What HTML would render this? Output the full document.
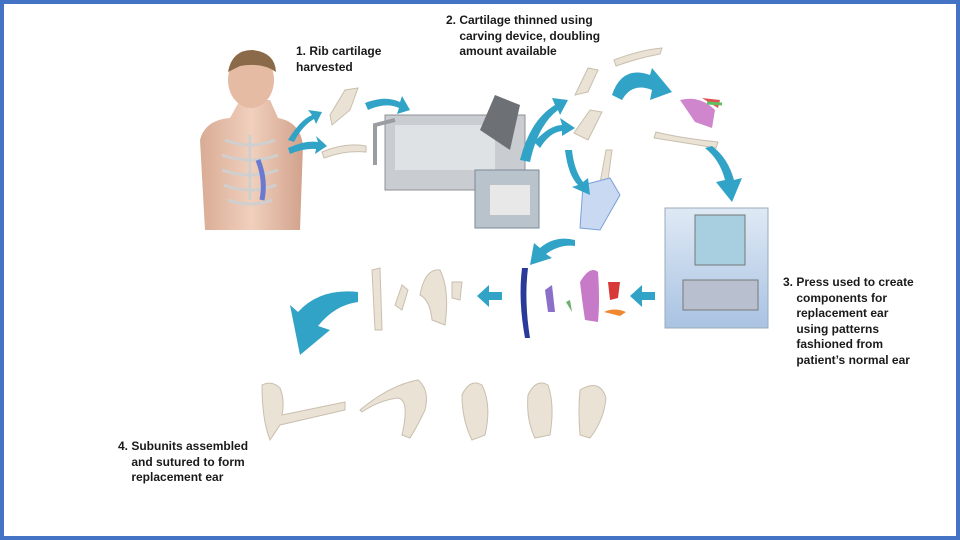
<!DOCTYPE html>
<html><head><meta charset="utf-8"><style>
html,body{margin:0;padding:0;background:#fff}
.wrap{position:relative;width:960px;height:540px;overflow:hidden;background:#fff}
.t{position:absolute;font-family:"Liberation Sans",sans-serif;font-weight:bold;font-size:12px;line-height:15.5px;color:#1a1a1a}
svg{position:absolute;left:0;top:0}
</style></head><body><div class="wrap">
<svg width="960" height="540" viewBox="0 0 960 540">
<defs>
<linearGradient id="sk" x1="0" y1="0" x2="1" y2="0"><stop offset="0" stop-color="#d9ab94"/><stop offset=".5" stop-color="#f0d0bd"/><stop offset="1" stop-color="#d2a28c"/></linearGradient>
<linearGradient id="bl" x1="0" y1="0" x2="0" y2="1"><stop offset="0" stop-color="#dfe9f5"/><stop offset="1" stop-color="#a9c3e2"/></linearGradient>
</defs>
<rect x="2" y="2" width="956" height="536" fill="none" stroke="#4472c4" stroke-width="4"/>
<!-- child -->
<path d="M200 140 Q205 120 230 118 L240 100 L270 100 L278 118 Q300 122 303 145 L300 230 L205 230 Z" fill="url(#sk)"/>
<ellipse cx="251" cy="80" rx="23" ry="28" fill="#e6bba4"/>
<path d="M228 72 Q232 50 252 50 Q275 52 276 72 Q262 62 240 66 Z" fill="#8a6a48"/>
<g stroke="#cfcfcf" stroke-width="3" fill="none">
<path d="M225 140 Q250 150 275 140"/><path d="M222 155 Q250 165 278 155"/><path d="M222 170 Q250 180 278 170"/><path d="M224 185 Q250 195 276 185"/><path d="M228 200 Q250 208 272 200"/>
<line x1="250" y1="135" x2="250" y2="200"/></g>
<path d="M258 160 Q266 180 262 200" stroke="#6a7ad0" stroke-width="5" fill="none"/>
<!-- device -->
<rect x="385" y="115" width="140" height="75" fill="#c9ccd0" stroke="#8d9196"/>
<rect x="395" y="125" width="100" height="45" fill="#dfe2e4"/>
<path d="M480 130 L495 95 L520 105 L510 150 Z" fill="#6d7075"/>
<path d="M375 165 L375 125 L395 120" stroke="#9a9ea2" stroke-width="4" fill="none"/>
<rect x="475" y="170" width="64" height="58" fill="#b9c3cb" stroke="#7a8a9a"/>
<rect x="490" y="185" width="40" height="30" fill="#e8e8e8"/>
<!-- cartilage pieces -->
<g fill="#e9e2d5" stroke="#c9bfae" stroke-width="1">
<path d="M330 115 L345 90 L358 88 L350 110 L332 125 Z"/>
<path d="M322 152 Q345 142 366 146 L366 152 Q345 150 324 158 Z"/>
<path d="M575 95 L588 68 L598 70 L588 92 Z"/><path d="M614 60 Q640 50 662 48 L660 54 Q638 58 616 66 Z"/>
<path d="M574 133 L590 110 L602 112 L588 140 Z"/>
<path d="M596 205 L606 150 L612 150 L604 210 Z"/>
<path d="M656 132 Q680 138 718 142 L716 148 Q680 142 654 138 Z"/>
<path d="M375 330 L372 270 L380 268 L382 330 Z"/><path d="M395 305 L402 285 L408 290 L402 310 Z"/>
<path d="M420 295 Q425 268 440 270 Q450 290 445 325 L432 320 Q430 300 420 295 Z"/>
<path d="M452 282 L462 282 L460 300 L452 298 Z"/>
<path d="M262 385 Q272 380 280 388 Q285 400 282 415 L345 402 L345 410 L280 425 L270 440 Q262 420 262 385 Z"/>
<path d="M360 410 Q390 385 418 380 Q430 390 425 410 Q418 425 410 438 L402 435 Q410 400 398 398 Q380 400 362 412 Z"/>
<path d="M462 395 Q470 378 482 385 Q492 405 485 435 L472 440 Q462 420 462 395 Z"/>
<path d="M528 395 Q536 378 548 385 Q555 405 550 435 L535 438 Q526 420 528 395 Z"/>
<path d="M580 390 Q600 378 606 398 Q604 420 590 438 L580 435 Q578 410 580 390 Z"/>
</g>
<path d="M680 100 Q700 95 715 110 L712 128 L695 122 Z" fill="#cf86cc"/>
<path d="M702 98 L720 100 L718 108 Z" fill="#e05050"/>
<path d="M707 103 L722 104" stroke="#60c060" stroke-width="3"/>
<path d="M583 185 L610 178 L620 195 L600 230 L580 228 Z" fill="#c9d9f2" stroke="#7aa0d8"/>
<!-- press -->
<rect x="665" y="208" width="103" height="120" fill="url(#bl)" stroke="#9ab"/>
<rect x="695" y="215" width="50" height="50" fill="#a7cfe0" stroke="#777"/>
<rect x="683" y="280" width="75" height="30" fill="#b8c0d0" stroke="#777"/>
<!-- colored pieces -->
<path d="M522 268 Q518 300 525 338 L530 338 Q524 300 528 268 Z" fill="#2a3a9a"/>
<path d="M545 290 L552 285 L555 312 L548 312 Z" fill="#8a70c8"/>
<path d="M566 302 L570 300 L572 312 Z" fill="#6ab06a"/>
<path d="M580 282 Q590 265 598 272 Q600 300 598 322 L585 320 Q582 300 580 282 Z" fill="#c67ac8"/>
<path d="M608 282 L620 282 L618 298 L610 300 Z" fill="#d83838"/>
<path d="M604 312 Q614 307 626 312 L620 316 Z" fill="#f08830"/>
<!-- arrows -->
<g fill="#31a3c6">
<path d="M365 103 Q385 95 400 102 L402 96 L410 110 L397 114 L399 108 Q386 102 368 110 Z"/>
<path d="M288 140 Q300 120 312 115 L308 110 L322 112 L316 124 L314 119 Q302 126 294 142 Z"/>
<path d="M288 148 Q305 140 318 142 L316 136 L327 146 L315 154 L316 149 Q304 148 290 154 Z"/>
<path d="M520 160 Q530 120 555 105 L552 98 L568 100 L560 115 L558 110 Q538 125 530 162 Z"/>
<path d="M534 142 Q550 125 562 125 L560 118 L575 128 L562 136 L562 131 Q550 132 540 148 Z"/>
<path d="M565 150 Q568 175 578 185 L572 187 L590 195 L588 178 L583 182 Q574 170 572 150 Z"/>
<path d="M612 95 Q622 65 650 75 L652 68 L672 92 L650 100 L652 90 Q632 82 622 100 Z"/>
<path d="M705 148 Q720 160 725 180 L716 182 L732 202 L742 178 L734 180 Q728 158 712 146 Z"/>
<path d="M575 240 Q555 235 540 248 L534 243 L530 265 L552 258 L546 254 Q560 244 575 246 Z"/>
<path d="M655 292 L642 292 L642 285 L630 296 L642 307 L642 300 L655 300 Z"/>
<path d="M502 292 L489 292 L489 285 L477 296 L489 307 L489 300 L502 300 Z"/>
<path d="M358 292 Q320 288 298 312 L290 305 L300 355 L330 330 L318 326 Q335 305 358 302 Z"/>
</g>
</svg>
<div class="t" style="left:296px;top:44px">1. Rib cartilage<br>harvested</div>
<div class="t" style="left:446px;top:13px">2. Cartilage thinned using<br>&nbsp;&nbsp;&nbsp;&nbsp;carving device, doubling<br>&nbsp;&nbsp;&nbsp;&nbsp;amount available</div>
<div class="t" style="left:783px;top:275px">3. Press used to create<br>&nbsp;&nbsp;&nbsp;&nbsp;components for<br>&nbsp;&nbsp;&nbsp;&nbsp;replacement ear<br>&nbsp;&nbsp;&nbsp;&nbsp;using patterns<br>&nbsp;&nbsp;&nbsp;&nbsp;fashioned from<br>&nbsp;&nbsp;&nbsp;&nbsp;patient’s normal ear</div>
<div class="t" style="left:118px;top:439px">4. Subunits assembled<br>&nbsp;&nbsp;&nbsp;&nbsp;and sutured to form<br>&nbsp;&nbsp;&nbsp;&nbsp;replacement ear</div>
</div></body></html>
